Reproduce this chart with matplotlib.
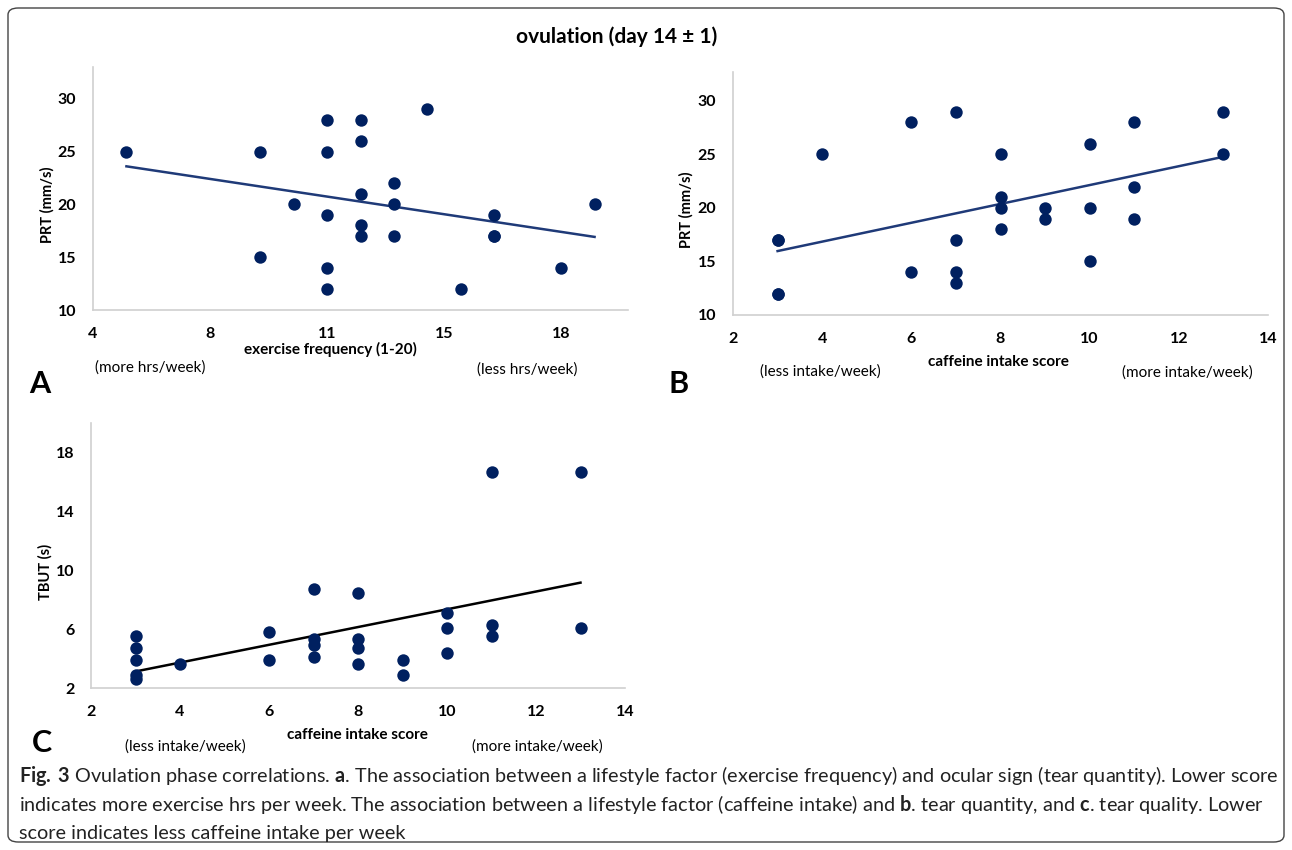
import numpy as np
import matplotlib
matplotlib.use("Agg")
from matplotlib import pyplot as plt
from matplotlib.patches import FancyBboxPatch

# panel A: exercise frequency vs PRT
exercise_x = [5, 9, 9, 10, 11, 11, 11, 11, 11, 12, 12, 12, 12, 12, 13, 13, 13, 14, 15, 16, 16, 16, 18, 19]
exercise_prt = [25, 25, 15, 20, 28, 25, 19, 14, 12, 28, 26, 21, 18, 17, 22, 20, 17, 29, 12, 19, 17, 17, 14, 20]
exercise_ticks = [4, 7.5, 11, 14.5, 18]
exercise_ticklabels = ["4", "8", "11", "15", "18"]

# panel B: caffeine score vs PRT
caffeine_b_x = [3, 3, 3, 3, 4, 6, 6, 7, 7, 7, 7, 8, 8, 8, 8, 9, 9, 10, 10, 10, 11, 11, 11, 13, 13]
caffeine_b_prt = [17, 17, 12, 12, 25, 28, 14, 29, 17, 14, 13, 25, 21, 20, 18, 20, 19, 26, 20, 15, 28, 22, 19, 29, 25]

# panel C: caffeine score vs TBUT
caffeine_c_x = [3, 3, 3, 3, 3, 4, 6, 6, 7, 7, 7, 7, 8, 8, 8, 8, 9, 9, 10, 10, 10, 11, 11, 11, 13, 13]
caffeine_c_tbut = [5.5, 4.7, 3.9, 2.85, 2.6, 3.65, 5.8, 3.9, 8.7, 5.35, 4.95, 4.1, 8.45, 5.3, 4.75, 3.65,
                   3.9, 2.85, 7.1, 6.1, 4.4, 16.65, 6.25, 5.5, 16.65, 6.05]

W, H = 1292, 850
DOT = "#002060"
LINE_AB = "#1f3a78"
SPINE = "#d0d0d0"
FONT = ["Lato", "DejaVu Sans"]

plt.rcParams["font.family"] = FONT
plt.rcParams["mathtext.fontset"] = "custom"
plt.rcParams["mathtext.bf"] = "Lato:bold"
plt.rcParams["mathtext.rm"] = "Lato"

fig = plt.figure(figsize=(W / 100, H / 100), dpi=100)


def px_axes(left, top, right, bottom):
    return fig.add_axes([left / W, 1 - bottom / H, (right - left) / W, (bottom - top) / H])


def ftext(x, y, s, **kw):
    fig.text(x / W, 1 - y / H, s, **kw)


def scatter_panel(ax, x, y, line_color, xlim, ylim, xticks, yticks, xticklabels=None):
    ax.scatter(x, y, s=80, color=DOT, zorder=3, linewidths=0)
    slope, icpt = np.polyfit(x, y, 1)
    xs = np.array([min(x), max(x)])
    ax.plot(xs, slope * xs + icpt, color=line_color, lw=1.8, zorder=2)
    ax.set_xlim(*xlim)
    ax.set_ylim(*ylim)
    ax.set_xticks(xticks)
    if xticklabels:
        ax.set_xticklabels(xticklabels)
    ax.set_yticks(yticks)
    for s in ["top", "right"]:
        ax.spines[s].set_visible(False)
    for s in ["left", "bottom"]:
        ax.spines[s].set_color(SPINE)
        ax.spines[s].set_linewidth(1.2)
    ax.tick_params(length=0, labelsize=11.5)
    for lab in ax.get_xticklabels() + ax.get_yticklabels():
        lab.set_fontweight("bold")
    ax.tick_params(axis="y", pad=12)
    ax.tick_params(axis="x", pad=12)


# border
fig.patches.append(FancyBboxPatch((8 / W, 8 / H), 1276 / W, 834 / H,
                                  boxstyle="round,pad=0,rounding_size=0.008",
                                  transform=fig.transFigure, fill=False,
                                  edgecolor="#444444", lw=1.0))

ftext(617, 37, "ovulation (day 14 \u00b1 1)", ha="center", va="center", fontsize=15, fontweight="bold")

# A
axA = px_axes(93, 67, 628, 310)
scatter_panel(axA, exercise_x, exercise_prt, LINE_AB, (4, 20), (10, 33),
              exercise_ticks, [10, 15, 20, 25, 30], exercise_ticklabels)
ftext(47, 205, "PRT (mm/s)", rotation=90, ha="center", va="center", fontsize=10.5, fontweight="bold")
ftext(330, 349, "exercise frequency (1-20)", ha="center", va="center", fontsize=11, fontweight="bold")
ftext(150, 368, "(more hrs/week)", ha="center", va="center", fontsize=11)
ftext(527, 370, "(less hrs/week)", ha="center", va="center", fontsize=11)
ftext(40, 384, "A", ha="center", va="center", fontsize=22, fontweight="bold")

# B
axB = px_axes(733, 72, 1268, 315)
scatter_panel(axB, caffeine_b_x, caffeine_b_prt, LINE_AB, (2, 14), (10, 32.7),
              [2, 4, 6, 8, 10, 12, 14], [10, 15, 20, 25, 30])
ftext(686, 210, "PRT (mm/s)", rotation=90, ha="center", va="center", fontsize=10.5, fontweight="bold")
ftext(998, 362, "caffeine intake score", ha="center", va="center", fontsize=11, fontweight="bold")
ftext(820, 372, "(less intake/week)", ha="center", va="center", fontsize=11)
ftext(1187, 373, "(more intake/week)", ha="center", va="center", fontsize=11)
ftext(679, 384, "B", ha="center", va="center", fontsize=22, fontweight="bold")

# C
axC = px_axes(91, 423, 625, 688)
scatter_panel(axC, caffeine_c_x, caffeine_c_tbut, "black", (2, 14), (2, 20),
              [2, 4, 6, 8, 10, 12, 14], [2, 6, 10, 14, 18])
ftext(45, 572, "TBUT (s)", rotation=90, ha="center", va="center", fontsize=10.5, fontweight="bold")
ftext(357, 735, "caffeine intake score", ha="center", va="center", fontsize=11, fontweight="bold")
ftext(185, 747, "(less intake/week)", ha="center", va="center", fontsize=11)
ftext(537, 747, "(more intake/week)", ha="center", va="center", fontsize=11)
ftext(42, 743, "C", ha="center", va="center", fontsize=22, fontweight="bold")

# caption
cap_lines = [
    r"$\mathbf{Fig.\,3}$ Ovulation phase correlations. $\mathbf{a}$. The association between a lifestyle factor (exercise frequency) and ocular sign (tear quantity). Lower score",
    r"indicates more exercise hrs per week. The association between a lifestyle factor (caffeine intake) and $\mathbf{b}$. tear quantity, and $\mathbf{c}$. tear quality. Lower",
    "score indicates less caffeine intake per week",
]
for i, line in enumerate(cap_lines):
    ftext(19, 776 + i * 28.5, line, ha="left", va="center", fontsize=14.3, color="#222222")

fig.savefig("out.png", dpi=100)
